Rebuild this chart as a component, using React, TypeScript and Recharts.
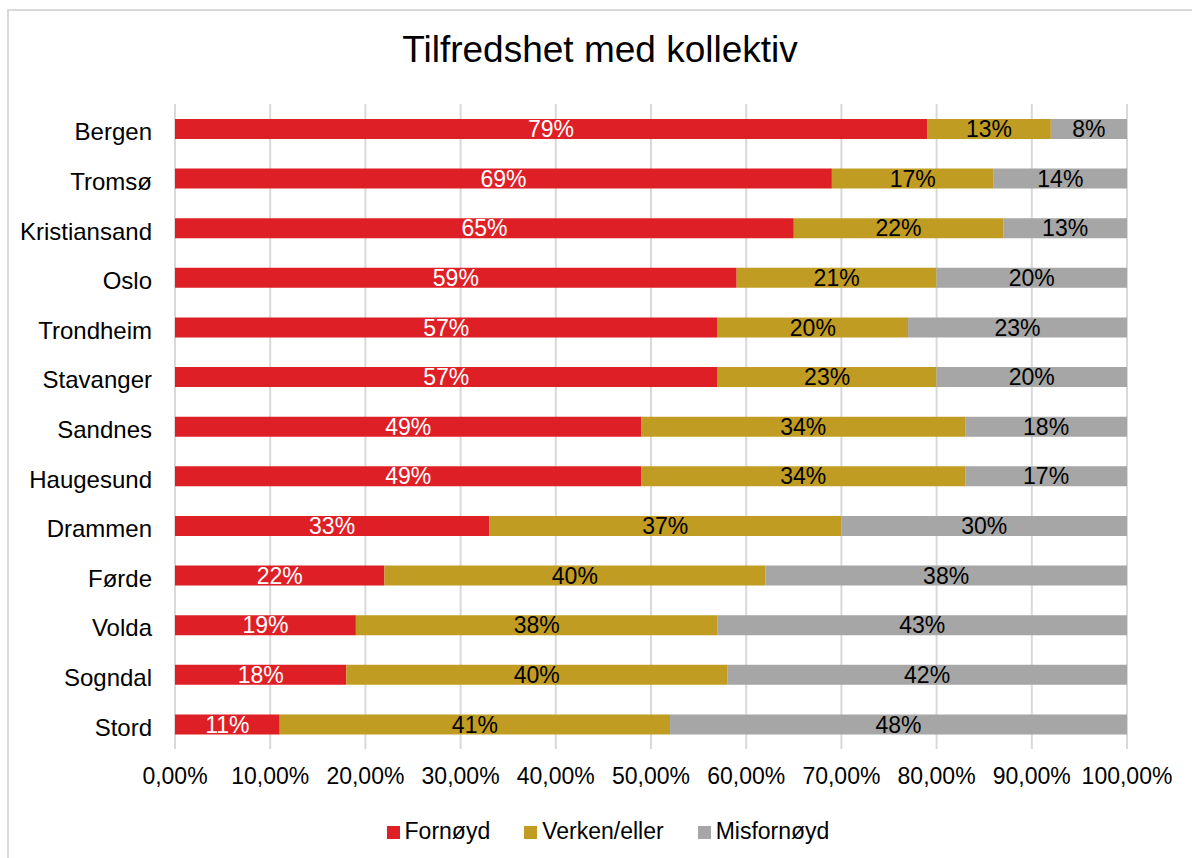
import React from "react";
import { BarChart, Bar, XAxis, YAxis, CartesianGrid, Legend, LabelList } from "recharts";

const cities = [
  "Bergen",
  "Tromsø",
  "Kristiansand",
  "Oslo",
  "Trondheim",
  "Stavanger",
  "Sandnes",
  "Haugesund",
  "Drammen",
  "Førde",
  "Volda",
  "Sogndal",
  "Stord",
];

// percentages, as printed on the bars
const fornoyd = [79, 69, 65, 59, 57, 57, 49, 49, 33, 22, 19, 18, 11];
const verken = [13, 17, 22, 21, 20, 23, 34, 34, 37, 40, 38, 40, 41];
const misfornoyd = [8, 14, 13, 20, 23, 20, 18, 17, 30, 38, 43, 42, 48];

const xTicks = [0, 0.1, 0.2, 0.3, 0.4, 0.5, 0.6, 0.7, 0.8, 0.9, 1];

const SERIES = [
  { key: "fornoyd", name: "Fornøyd", color: "#DF1F26", labelColor: "#ffffff" },
  { key: "verken", name: "Verken/eller", color: "#C19C22", labelColor: "#000000" },
  { key: "misfornoyd", name: "Misfornøyd", color: "#A6A6A6", labelColor: "#000000" },
];

const data = cities.map((name, i) => ({
  name,
  fornoyd: fornoyd[i] / 100,
  verken: verken[i] / 100,
  misfornoyd: misfornoyd[i] / 100,
}));

const FONT = "'Liberation Sans', Arial, sans-serif";

const fmtTick = (v: number) => (v * 100).toFixed(2).replace(".", ",") + "%";
const fmtLabel = (v: number) => `${Math.round(v * 100)}%`;

function LegendContent() {
  return (
    <div
      style={{
        height: 30,
        lineHeight: "30px",
        fontSize: 23,
        fontFamily: FONT,
        color: "#000",
        textAlign: "center",
        paddingLeft: 16,
        whiteSpace: "nowrap",
      }}
    >
      {SERIES.map((s, i) => (
        <span key={s.key} style={{ marginLeft: i === 0 ? 0 : 34 }}>
          <span
            style={{
              display: "inline-block",
              width: 13,
              height: 13,
              background: s.color,
              marginRight: 5,
              verticalAlign: "baseline",
            }}
          />
          {s.name}
        </span>
      ))}
    </div>
  );
}

export default function App() {
  return (
    <div
      style={{
        position: "fixed",
        left: 0,
        top: 0,
        width: 1192,
        height: 858,
        overflow: "hidden",
        background: "#fff",
      }}
    >
      <div
        style={{
          position: "absolute",
          left: 7,
          top: 9,
          width: 1220,
          height: 900,
          border: "2px solid #d9d9d9",
          boxSizing: "border-box",
        }}
      />
      <div
        style={{
          position: "absolute",
          left: 8,
          top: 30,
          width: 1184,
          textAlign: "center",
          fontFamily: FONT,
          fontSize: 37,
          lineHeight: "40px",
          color: "#000",
        }}
      >
        Tilfredshet med kollektiv
      </div>
      <div style={{ position: "absolute", left: 8, top: 8 }}>
        <BarChart
          width={1184}
          height={850}
          data={data}
          layout="vertical"
          margin={{ top: 96, right: 65, bottom: 12, left: 0 }}
        >
          <CartesianGrid horizontal={false} stroke="#d9d9d9" strokeWidth={2} />
          <XAxis
            type="number"
            domain={[0, 1]}
            allowDataOverflow
            ticks={xTicks}
            tickFormatter={fmtTick}
            axisLine={false}
            tickLine={false}
            tickMargin={13}
            height={67}
            interval={0}
            tick={{ fontSize: 23, fill: "#000", fontFamily: FONT }}
          />
          <YAxis
            type="category"
            dataKey="name"
            width={167}
            axisLine={false}
            tickLine={false}
            tickMargin={17}
            interval={0}
            tick={{ fontSize: 24, fill: "#000", fontFamily: FONT, dy: 3 }}
          />
          <Legend
            verticalAlign="bottom"
            content={<LegendContent />}
            wrapperStyle={{ left: 0, width: 1184 }}
          />
          {SERIES.map((s) => (
            <Bar
              key={s.key}
              dataKey={s.key}
              name={s.name}
              stackId="a"
              fill={s.color}
              barSize={20}
              isAnimationActive={false}
            >
              <LabelList
                dataKey={s.key}
                position="center"
                formatter={fmtLabel}
                fill={s.labelColor}
                style={{ fontSize: 23, fontFamily: FONT }}
              />
            </Bar>
          ))}
        </BarChart>
      </div>
    </div>
  );
}
